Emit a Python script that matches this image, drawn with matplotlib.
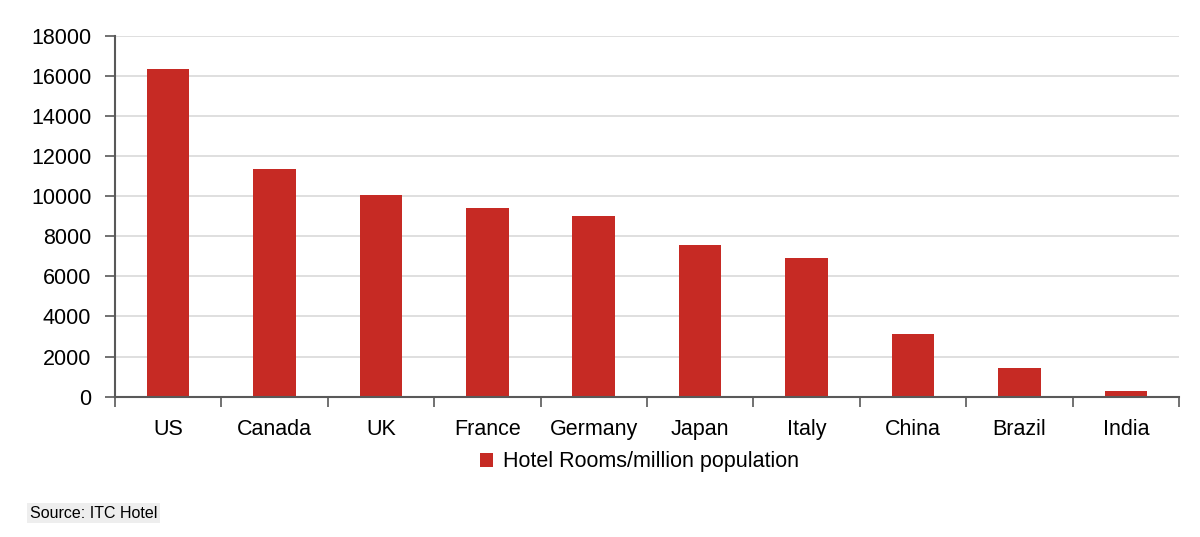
import numpy as np
import matplotlib
matplotlib.use('Agg')
import matplotlib.pyplot as plt
from matplotlib.ticker import FixedLocator, NullFormatter

# data
countries = ['US', 'Canada', 'UK', 'France', 'Germany', 'Japan', 'Italy', 'China', 'Brazil', 'India']
rooms_per_million = [16350, 11370, 10070, 9410, 8990, 7550, 6930, 3140, 1450, 270]
y_ticks = [0, 2000, 4000, 6000, 8000, 10000, 12000, 14000, 16000, 18000]

BAR_COLOR = '#C62A24'
AXIS_COLOR = '#595959'

plt.rcParams['font.family'] = ['Liberation Sans', 'DejaVu Sans']

fig = plt.figure(figsize=(12, 5.37), dpi=100)
ax = fig.add_axes([0.0958, 0.2613, 0.8867, 0.6722])

x = np.arange(len(countries))
ax.bar(x, rooms_per_million, width=0.4, color=BAR_COLOR, zorder=3,
       label='Hotel Rooms/million population')

ax.set_xlim(-0.5, len(countries) - 0.5)
ax.set_ylim(0, 18000)
ax.set_yticks(y_ticks)
ax.set_yticklabels([str(v) for v in y_ticks], fontsize=15.5)

# category labels at centres, ticks at the boundaries
ax.set_xticks(x)
ax.set_xticklabels(countries, fontsize=15.5)
ax.tick_params(axis='x', which='major', length=0, pad=16)
ax.xaxis.set_minor_locator(FixedLocator(np.arange(-0.5, len(countries), 1.0)))
ax.xaxis.set_minor_formatter(NullFormatter())
ax.tick_params(axis='x', which='minor', length=7, width=1.2, color=AXIS_COLOR, direction='out')
ax.tick_params(axis='y', length=7, width=1.2, color=AXIS_COLOR, pad=10)

ax.yaxis.grid(True, color='#d9d9d9', linewidth=1.2, zorder=0)
ax.set_axisbelow(True)
for side in ['top', 'right']:
    ax.spines[side].set_visible(False)
for side in ['left', 'bottom']:
    ax.spines[side].set_color(AXIS_COLOR)
    ax.spines[side].set_linewidth(1.5)
ax.spines['bottom'].set_zorder(4)

fig.legend(loc='center', bbox_to_anchor=(0.533, 1 - 462 / 537), frameon=False,
           fontsize=15.5, handlelength=0.6, handleheight=0.6, handletextpad=0.5)

fig.text(30 / 1200, 1 - 513 / 537, 'Source: ITC Hotel', fontsize=11.5, va='center',
         bbox=dict(facecolor='#eeeeee', edgecolor='none', pad=2))

fig.savefig('out.png', dpi=100)
